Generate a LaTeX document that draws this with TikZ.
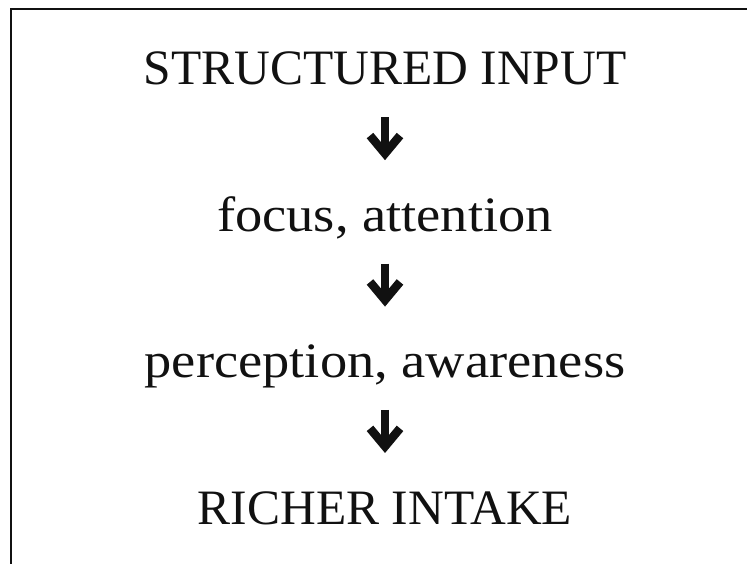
\documentclass[tikz,border=0pt]{standalone}
\usepackage{fontspec}
\setmainfont{Liberation Serif}
\newfontfamily\flwide[FakeStretch=1.1]{Liberation Serif}
\usetikzlibrary{arrows.meta,positioning}
\definecolor{flInk}{HTML}{111111}
\tikzset{
  fl/step/.style={inner sep=0pt, text height=34bp, text depth=10bp,
    font=\fontsize{49.5bp}{59bp}\selectfont, text=flInk},
  fl/stepwide/.style={fl/step, font=\flwide\fontsize{49.5bp}{59bp}\selectfont},
  fl/arrow/.style={-{Straight Barb[length=18bp,width=30bp,sharp]}, draw=flInk,
    line width=8.5bp, shorten <=22bp, shorten >=37bp},
  fl/frame/.style={draw=flInk, line width=2bp},
}

\begin{document}
\begin{tikzpicture}[
  node distance=102bp
]
\useasboundingbox (0,0) rectangle (747bp,564bp);
% cropped frame: only top and left edges show
\draw[fl/frame] (11bp,0) -- (11bp,555bp) -- (747bp,555bp);
\node[fl/step, anchor=base] (input) at (385bp,479bp) {STRUCTURED INPUT};
\node[fl/stepwide, below=of input] (focus) {focus, attention};
\node[fl/stepwide, below=of focus] (percept) {perception, awareness};
\node[fl/step, below=of percept] (intake) {RICHER INTAKE};
\draw[fl/arrow] (input) -- (focus);
\draw[fl/arrow] (focus) -- (percept);
\draw[fl/arrow] (percept) -- (intake);
\end{tikzpicture}
\end{document}
